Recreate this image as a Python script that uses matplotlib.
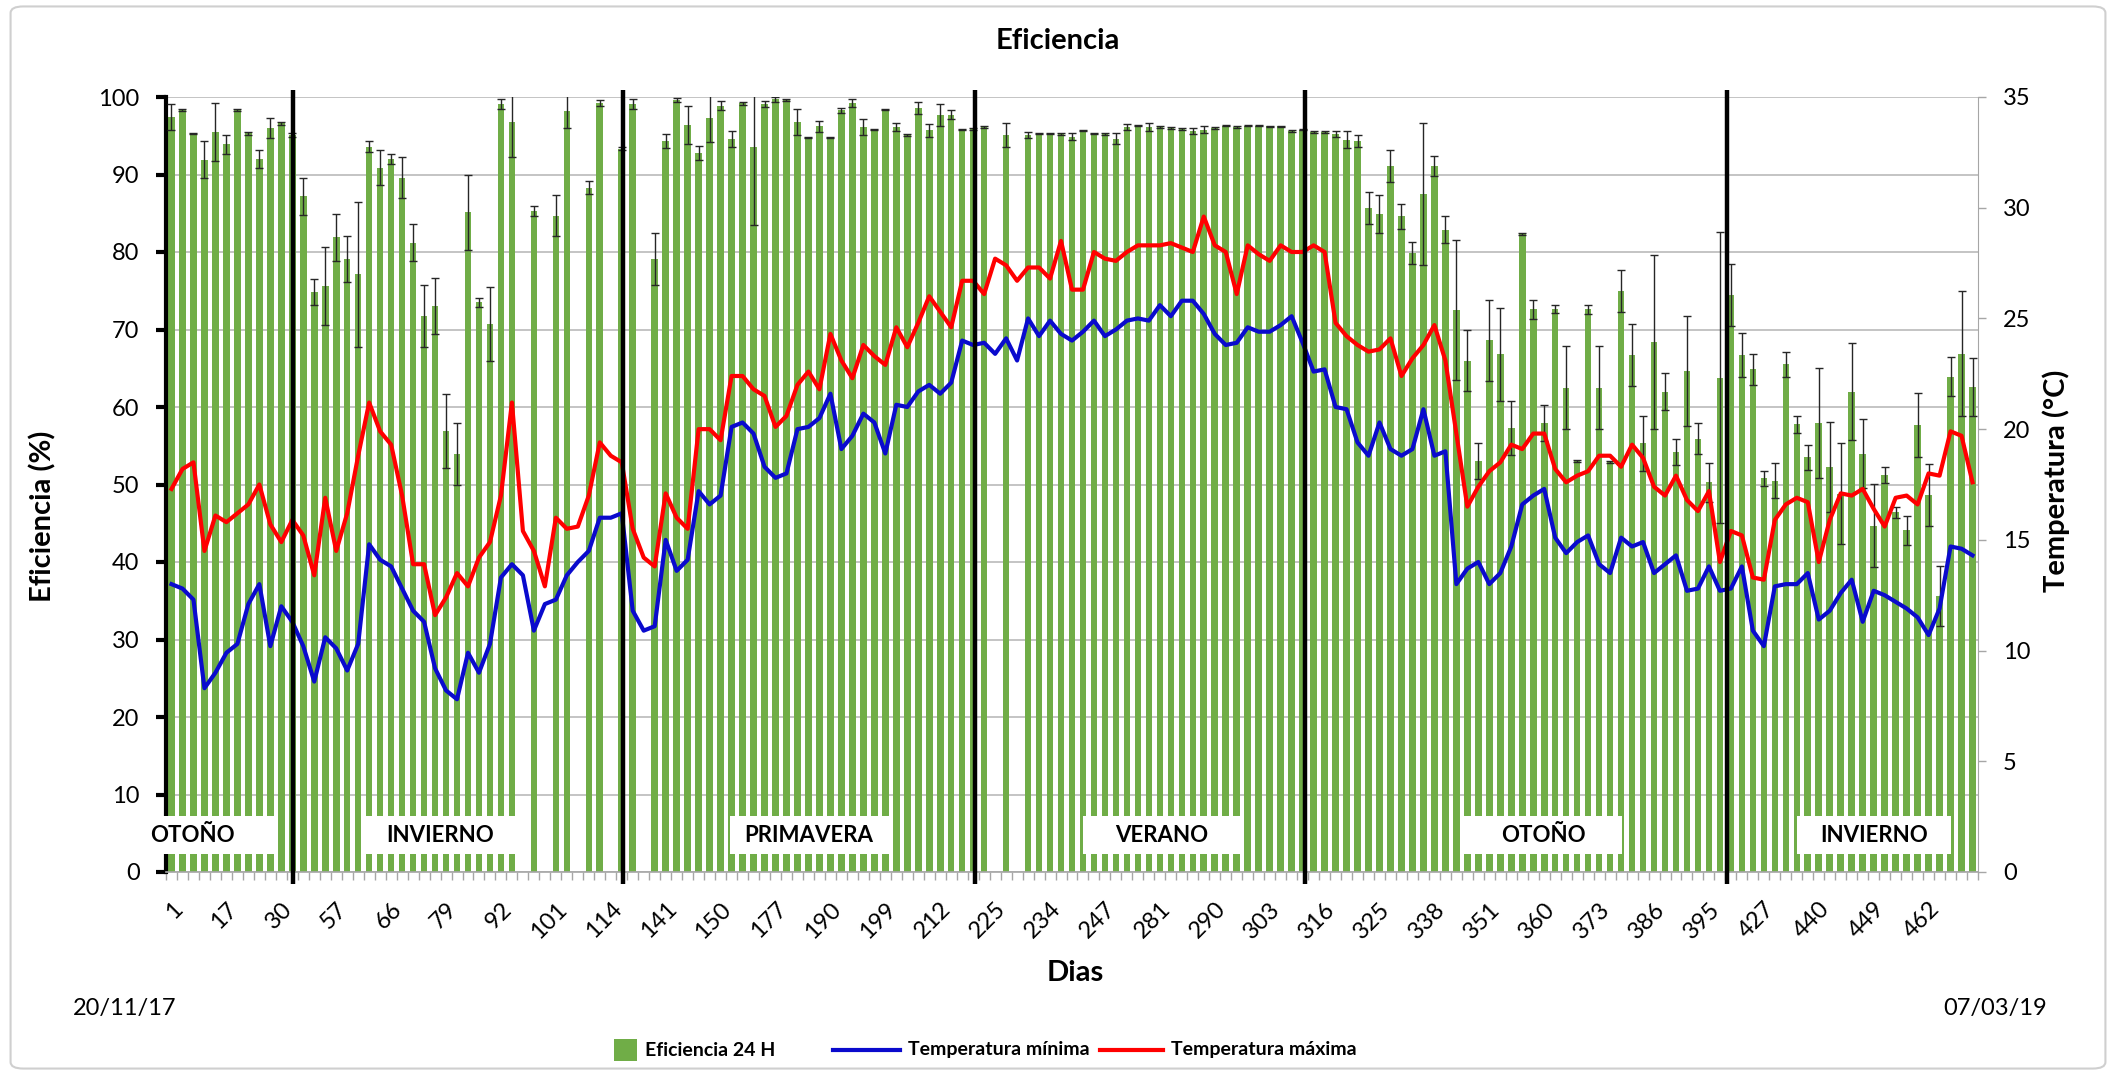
import numpy as np
import matplotlib.pyplot as plt
from matplotlib.patches import Rectangle, FancyBboxPatch
from matplotlib.lines import Line2D

plt.rcParams['font.family'] = ['Lato', 'DejaVu Sans']

# Eficiencia 24 H (%) per day, 0 = no measurement
eficiencia = [97.4, 98.3, 95.3, 91.9, 95.5, 93.9, 98.3, 95.3, 92.0, 96.0,
              96.6, 95.1, 87.2, 74.8, 75.6, 81.9, 79.1, 77.1, 93.6, 90.9,
              92.0, 89.6, 81.2, 71.7, 73.0, 56.9, 53.9, 85.1, 73.5, 70.7,
              99.1, 96.8, 0, 85.3, 0, 84.7, 98.2, 0, 88.3, 99.2,
              0, 93.3, 99.1, 0, 79.1, 94.3, 99.6, 96.4, 92.8, 97.3,
              98.9, 94.6, 99.2, 93.6, 99.1, 99.7, 99.6, 96.8, 94.8, 96.2,
              94.8, 98.3, 99.2, 96.1, 95.8, 98.4, 96.1, 95.1, 98.6, 95.7,
              97.7, 97.7, 95.8, 95.9, 96.1, 0, 95.1, 0, 95.1, 95.3,
              95.3, 95.2, 94.9, 95.7, 95.3, 95.2, 94.6, 96.1, 96.3, 96.1,
              96.1, 96.0, 95.9, 95.6, 95.8, 96.0, 96.3, 96.1, 96.3, 96.3,
              96.2, 96.2, 95.6, 95.8, 95.5, 95.5, 95.2, 94.5, 94.3, 85.7,
              84.9, 91.1, 84.6, 79.9, 87.5, 91.1, 82.9, 72.5, 66.0, 53.0,
              68.6, 66.8, 57.3, 82.3, 72.6, 57.9, 72.6, 62.5, 53.0, 72.6,
              62.5, 52.9, 75.0, 66.7, 55.3, 68.4, 62.0, 54.2, 64.6, 55.9,
              50.3, 63.8, 74.4, 66.7, 64.9, 50.8, 50.5, 65.5, 57.8, 53.5,
              57.9, 52.3, 48.8, 62.0, 54.0, 44.7, 51.2, 46.4, 44.1, 57.7,
              48.6, 35.6, 63.9, 66.9, 62.6]

error = [1.7, 0.1, 0.1, 2.4, 3.7, 1.2, 0.1, 0.2, 1.2, 1.3,
         0.2, 0.3, 2.4, 1.7, 5.0, 3.0, 3.0, 9.4, 0.7, 2.2,
         0.7, 2.6, 2.4, 4.0, 3.6, 4.8, 4.0, 4.9, 0.6, 4.8,
         0.6, 4.5, 0, 0.7, 0, 2.6, 2.2, 0, 0.8, 0.4,
         0, 0.2, 0.6, 0, 3.3, 0.9, 0.3, 2.4, 0.9, 3.1,
         0.6, 1.0, 0.2, 10.1, 0.4, 0.3, 0.1, 1.7, 0.1, 0.7,
         0.1, 0.3, 0.5, 1.0, 0.1, 0.1, 0.5, 0.1, 0.8, 0.8,
         1.4, 0.6, 0.1, 0.1, 0.1, 0, 1.5, 0, 0.4, 0.1,
         0.1, 0.1, 0.4, 0.1, 0.1, 0.1, 0.7, 0.4, 0.1, 0.5,
         0.1, 0.1, 0.1, 0.4, 0.4, 0.1, 0.1, 0.1, 0.1, 0.1,
         0.1, 0.1, 0.1, 0.1, 0.1, 0.1, 0.4, 1.1, 0.8, 2.1,
         2.4, 2.1, 1.6, 1.4, 9.2, 1.3, 1.7, 9.0, 3.9, 2.3,
         5.2, 6.0, 3.5, 0.1, 1.2, 2.3, 0.5, 5.4, 0.1, 0.6,
         5.4, 0.1, 2.7, 4.0, 3.5, 11.2, 2.4, 1.7, 7.1, 2.0,
         2.5, 18.8, 4.0, 2.8, 2.0, 1.0, 2.3, 1.6, 1.1, 1.6,
         7.1, 5.8, 6.5, 6.3, 4.5, 5.4, 1.0, 0.7, 1.9, 4.1,
         4.0, 3.9, 2.5, 8.1, 3.7]

temp_min = [13.0, 12.8, 12.3, 8.3, 9.0, 9.9, 10.3, 12.1, 13.0, 10.2,
            12.0, 11.3, 10.2, 8.6, 10.6, 10.1, 9.1, 10.3, 14.8, 14.1,
            13.8, 12.8, 11.8, 11.3, 9.2, 8.2, 7.8, 9.9, 9.0, 10.3,
            13.3, 13.9, 13.4, 10.9, 12.1, 12.3, 13.4, 14.0, 14.5, 16.0,
            16.0, 16.2, 11.8, 10.9, 11.1, 15.0, 13.6, 14.1, 17.2, 16.6,
            17.0, 20.1, 20.3, 19.8, 18.3, 17.8, 18.0, 20.0, 20.1, 20.5,
            21.6, 19.1, 19.7, 20.7, 20.3, 18.9, 21.1, 21.0, 21.7, 22.0,
            21.6, 22.1, 24.0, 23.8, 23.9, 23.4, 24.1, 23.1, 25.0, 24.2,
            24.9, 24.3, 24.0, 24.4, 24.9, 24.2, 24.5, 24.9, 25.0, 24.9,
            25.6, 25.1, 25.8, 25.8, 25.2, 24.3, 23.8, 23.9, 24.6, 24.4,
            24.4, 24.7, 25.1, 23.9, 22.6, 22.7, 21.0, 20.9, 19.4, 18.8,
            20.3, 19.1, 18.8, 19.1, 20.9, 18.8, 19.0, 13.0, 13.7, 14.0,
            13.0, 13.5, 14.7, 16.6, 17.0, 17.3, 15.1, 14.4, 14.9, 15.2,
            13.9, 13.5, 15.1, 14.7, 14.9, 13.5, 13.9, 14.3, 12.7, 12.8,
            13.8, 12.7, 12.8, 13.8, 10.9, 10.2, 12.9, 13.0, 13.0, 13.5,
            11.4, 11.8, 12.6, 13.2, 11.3, 12.7, 12.5, 12.2, 11.9, 11.5,
            10.7, 11.9, 14.7, 14.6, 14.3]

temp_max = [17.3, 18.2, 18.5, 14.5, 16.1, 15.8, 16.2, 16.6, 17.5, 15.7,
            14.9, 15.9, 15.2, 13.4, 16.9, 14.5, 16.2, 18.8, 21.2, 19.9,
            19.3, 17.0, 13.9, 13.9, 11.6, 12.4, 13.5, 12.9, 14.2, 14.9,
            17.0, 21.2, 15.4, 14.5, 12.9, 16.0, 15.5, 15.6, 17.0, 19.4,
            18.8, 18.5, 15.5, 14.2, 13.8, 17.1, 16.0, 15.5, 20.0, 20.0,
            19.5, 22.4, 22.4, 21.8, 21.5, 20.1, 20.6, 22.0, 22.6, 21.8,
            24.3, 23.1, 22.3, 23.8, 23.3, 22.9, 24.6, 23.7, 24.8, 26.0,
            25.3, 24.6, 26.7, 26.7, 26.1, 27.7, 27.4, 26.7, 27.3, 27.3,
            26.8, 28.5, 26.3, 26.3, 28.0, 27.7, 27.6, 28.0, 28.3, 28.3,
            28.3, 28.4, 28.2, 28.0, 29.6, 28.3, 28.0, 26.1, 28.3, 27.9,
            27.6, 28.3, 28.0, 28.0, 28.3, 28.0, 24.8, 24.2, 23.8, 23.5,
            23.6, 24.1, 22.4, 23.2, 23.8, 24.7, 23.1, 19.8, 16.5, 17.4,
            18.1, 18.5, 19.3, 19.1, 19.8, 19.8, 18.2, 17.6, 17.9, 18.1,
            18.8, 18.8, 18.3, 19.3, 18.7, 17.4, 17.0, 17.9, 16.8, 16.3,
            17.2, 14.0, 15.4, 15.2, 13.3, 13.2, 15.9, 16.6, 16.9, 16.7,
            14.0, 15.9, 17.1, 17.0, 17.3, 16.4, 15.6, 16.9, 17.0, 16.6,
            18.0, 17.9, 19.9, 19.7, 17.6]

tick_labels = ['1', '17', '30', '57', '66', '79', '92', '101', '114', '141',
               '150', '177', '190', '199', '212', '225', '234', '247', '281',
               '290', '303', '316', '325', '338', '351', '360', '373', '386',
               '395', '427', '440', '449', '462']

estaciones = ['OTOÑO', 'INVIERNO', 'PRIMAVERA', 'VERANO', 'OTOÑO', 'INVIERNO']

# season boxes (x0, x1, text x) in category units, season boundaries
cajas = [(-1.85, 9.6, 1.95), (17.3, 31.3, 24.5), (50.9, 65.5, 58.0),
         (83.0, 97.4, 90.2), (117.5, 132.1, 124.9), (148.0, 162.0, 155.0)]
cambios = [11.05, 41.1, 73.2, 103.2, 141.6]

n = len(eficiencia)
x = np.arange(n)
eff = np.array(eficiencia)
err = np.array(error)

W, H = 2116, 1075
fig = plt.figure(figsize=(W / 100, H / 100), dpi=100)
ax = fig.add_axes([166 / W, 1 - 872 / H, (1978 - 166) / W, 775 / H])
ax2 = ax.twinx()

ax.bar(x, eff, width=0.6, color='#70AD47', zorder=2)
m = eff > 0
ax.errorbar(x[m], eff[m], yerr=err[m], fmt='none', ecolor='#262626',
            elinewidth=1, capsize=3, capthick=1, zorder=3)

for nombre, (x0, x1, xt) in zip(estaciones, cajas):
    ax.add_patch(Rectangle((x0, 2.3), x1 - x0, 4.9, facecolor='white',
                           edgecolor='none', zorder=4, clip_on=False))
    ax.text(xt, 4.75, nombre, ha='center', va='center', fontsize=16,
            fontweight='bold', zorder=5)

ax.set_xlim(-0.5, n - 0.5)
ax.set_ylim(0, 100)
ax.set_yticks(range(0, 101, 10))
ax.yaxis.grid(True, color='#BFBFBF', lw=1.3)
ax.set_axisbelow(True)
ax.set_xticks(x[::5], tick_labels, rotation=45, ha='right',
              rotation_mode='anchor')
ax.set_xticks(np.arange(-0.5, n, 1), minor=True)
ax.tick_params(axis='x', which='major', length=0, labelsize=17, pad=19)
ax.tick_params(axis='x', which='minor', length=6, width=1, color='#A6A6A6')
ax.tick_params(axis='y', direction='out', length=7, width=3, color='black',
               labelsize=17, pad=12)
for s in ['top', 'right']:
    ax.spines[s].set_visible(False)
ax.spines['left'].set_linewidth(3)
ax.spines['left'].set_color('black')
ax.spines['bottom'].set_color('#A6A6A6')
ax.spines['bottom'].set_linewidth(1.2)

ax2.plot(x, temp_min, color='#0A0ACD', lw=3, zorder=3)
ax2.plot(x, temp_max, color='#FF0000', lw=3, zorder=3)
ax2.vlines(cambios, -0.55, 35.3, color='black', lw=3.2, clip_on=False, zorder=6)
ax2.set_ylim(0, 35)
ax2.set_yticks(range(0, 36, 5))
ax2.tick_params(axis='y', direction='out', length=6, width=1, color='#A6A6A6',
                labelsize=17, pad=12)
for s in ['top', 'left', 'bottom']:
    ax2.spines[s].set_visible(False)
ax2.spines['right'].set_color('#A6A6A6')

fig.text(1058 / W, 1 - 41 / H, 'Eficiencia', ha='center', va='center',
         fontsize=21, fontweight='bold')
fig.text(43 / W, 1 - 516 / H, 'Eficiencia (%)', ha='center', va='center',
         rotation=90, fontsize=21, fontweight='bold')
fig.text(2056 / W, 1 - 481 / H, 'Temperatura (°C)', ha='center', va='center',
         rotation=90, fontsize=21, fontweight='bold')
fig.text(1075 / W, 1 - 973 / H, 'Dias', ha='center', va='center',
         fontsize=21, fontweight='bold')
fig.text(125 / W, 1 - 1008 / H, '20/11/17', ha='center', va='center', fontsize=17)
fig.text(1995 / W, 1 - 1008 / H, '07/03/19', ha='center', va='center', fontsize=17)

# legend drawn by hand in figure pixels
ly = 1 - 1050 / H
fig.patches.append(Rectangle((614 / W, 1 - 1061 / H), 23 / W, 22 / H,
                             facecolor='#70AD47', transform=fig.transFigure))
fig.text(645 / W, ly, 'Eficiencia 24 H', va='center', fontsize=14, fontweight='bold')
fig.lines.append(Line2D([833 / W, 900 / W], [ly, ly], color='#0A0ACD', lw=3,
                        transform=fig.transFigure))
fig.text(908 / W, ly, 'Temperatura mínima', va='center', fontsize=14, fontweight='bold')
fig.lines.append(Line2D([1100 / W, 1163 / W], [ly, ly], color='#FF0000', lw=3,
                        transform=fig.transFigure))
fig.text(1171 / W, ly, 'Temperatura máxima', va='center', fontsize=14, fontweight='bold')

fig.patches.append(FancyBboxPatch((0.005, 0.006), 0.99, 0.988,
                                  boxstyle='round,pad=0,rounding_size=0.006',
                                  facecolor='none', edgecolor='#CFCFCF', lw=1.5,
                                  transform=fig.transFigure))

fig.savefig('out.png', dpi=100)
